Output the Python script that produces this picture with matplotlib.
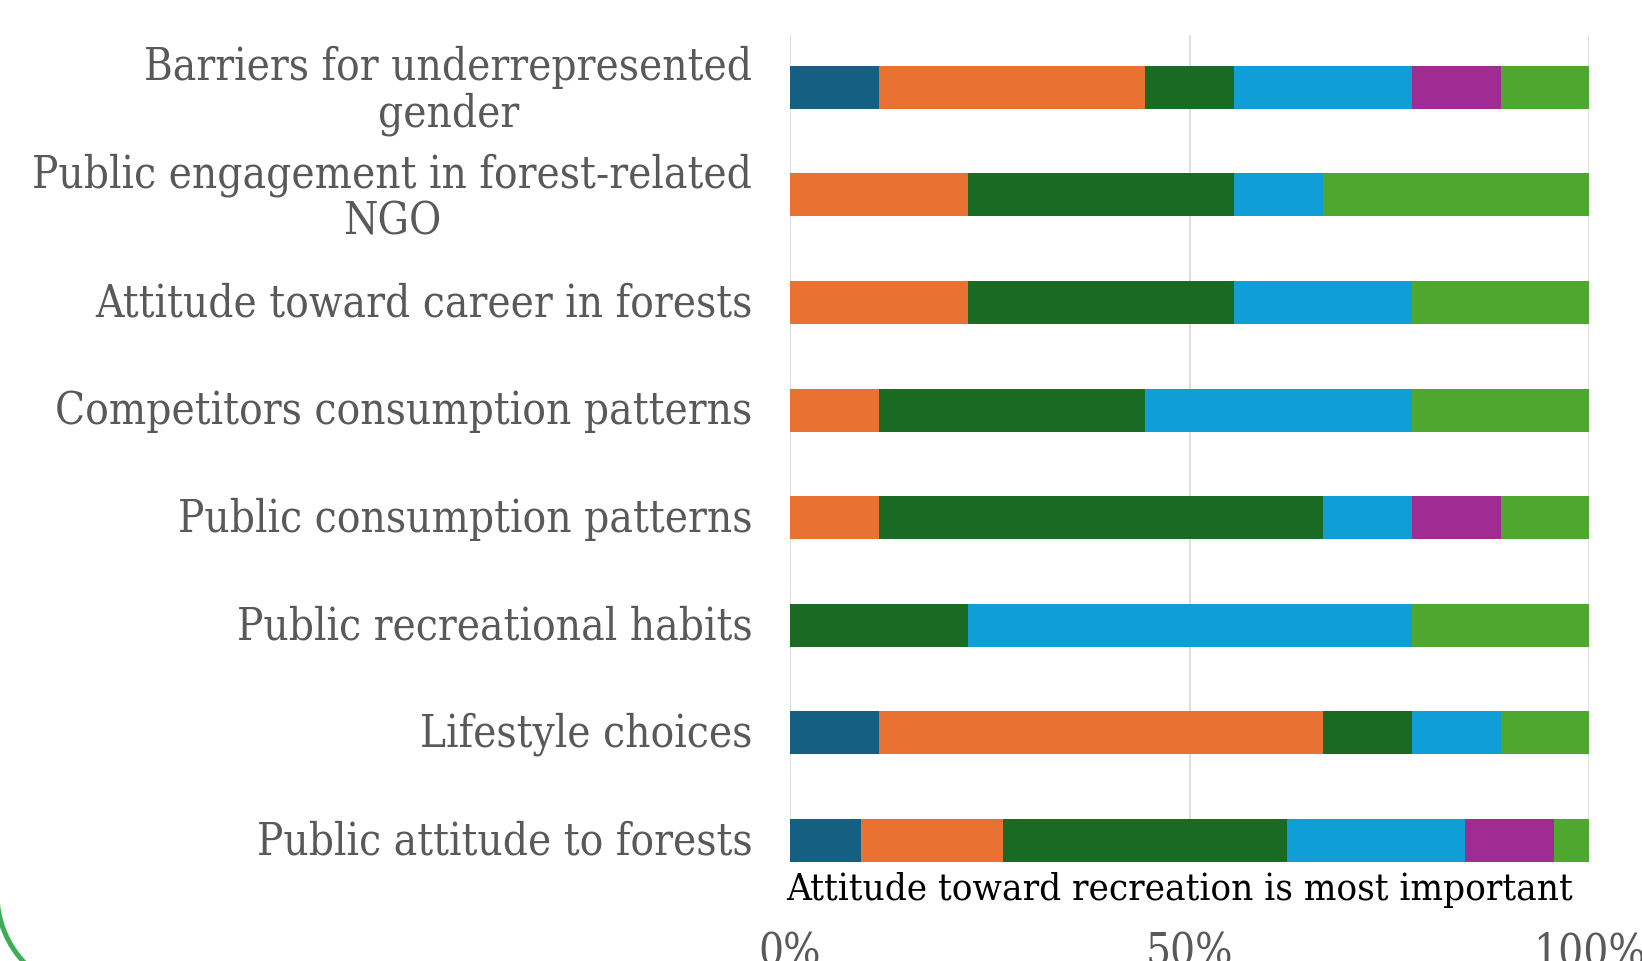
import matplotlib
matplotlib.use("Agg")
import matplotlib.pyplot as plt
import numpy as np
from matplotlib.patches import Arc
from matplotlib.ticker import FuncFormatter
from matplotlib.transforms import ScaledTranslation

# rows, top to bottom
categories = [
    "Barriers for underrepresented\ngender",
    "Public engagement in forest-related\nNGO",
    "Attitude toward career in forests",
    "Competitors consumption patterns",
    "Public consumption patterns",
    "Public recreational habits",
    "Lifestyle choices",
    "Public attitude to forests",
]

# response counts per series (each row is shown as 100%)
series_1 = [1, 0, 0, 0, 0, 0, 1, 4]
series_2 = [3, 2, 2, 1, 1, 0, 5, 8]
series_3 = [1, 3, 3, 3, 5, 2, 1, 16]
series_4 = [2, 1, 2, 3, 1, 5, 1, 10]
series_5 = [1, 0, 0, 0, 1, 0, 0, 5]
series_6 = [1, 3, 2, 2, 1, 2, 1, 2]

colors = ["#156082", "#E97132", "#196B24", "#0F9ED5", "#A02B93", "#4EA72E"]
x_ticks = [0, 0.5, 1.0]
title = "Attitude toward recreation is most important"

FONT = dict(family="DejaVu Serif", stretch="condensed")


def main():
    data = np.array([series_1, series_2, series_3, series_4, series_5, series_6], dtype=float)
    shares = data / data.sum(axis=0)

    fig = plt.figure(figsize=(16.42, 9.61), dpi=100)
    ax = fig.add_axes([0.481, 0.103, 0.487, 0.861])

    y = np.arange(len(categories))
    left = np.zeros(len(categories))
    for i in range(len(shares)):
        ax.barh(y, shares[i], left=left, height=0.4, color=colors[i], zorder=3)
        left += shares[i]

    ax.set_xlim(0, 1)
    ax.set_ylim(7.2, -0.49)
    ax.set_xticks(x_ticks)
    ax.xaxis.set_major_formatter(FuncFormatter(lambda v, p: f"{v * 100:.0f}%"))
    ax.set_yticks(y)
    ax.set_yticklabels(categories, multialignment="center", linespacing=1.1)
    ax.tick_params(axis="both", length=0, colors="#595959")
    ax.tick_params(axis="y", pad=27)
    ax.tick_params(axis="x", pad=50)
    shift_up = ScaledTranslation(0, 3 / 100, fig.dpi_scale_trans)
    for lab in ax.get_yticklabels():
        lab.set_transform(lab.get_transform() + shift_up)
    for lab in ax.get_yticklabels() + ax.get_xticklabels():
        lab.set_fontfamily(FONT["family"])
        lab.set_fontstretch(FONT["stretch"])
        lab.set_fontsize(31.5)
        lab.set_color("#595959")
    for s in ax.spines.values():
        s.set_visible(False)
    ax.grid(axis="x", color="#d9d9d9", linewidth=1.2, zorder=0)

    fig.text(0.479, 0.074, title, fontsize=27.5, color="black",
             ha="left", va="center", **FONT)

    # decorative corner arc, only its lower-left part reaches into the picture
    fig.add_artist(Arc((0.97, (961 - 894) / 100), 2.0, 2.0, theta1=180, theta2=270,
                       transform=fig.dpi_scale_trans, edgecolor="#3CAE54", linewidth=3.6))

    fig.savefig("out.png", dpi=100)


if __name__ == "__main__":
    main()
